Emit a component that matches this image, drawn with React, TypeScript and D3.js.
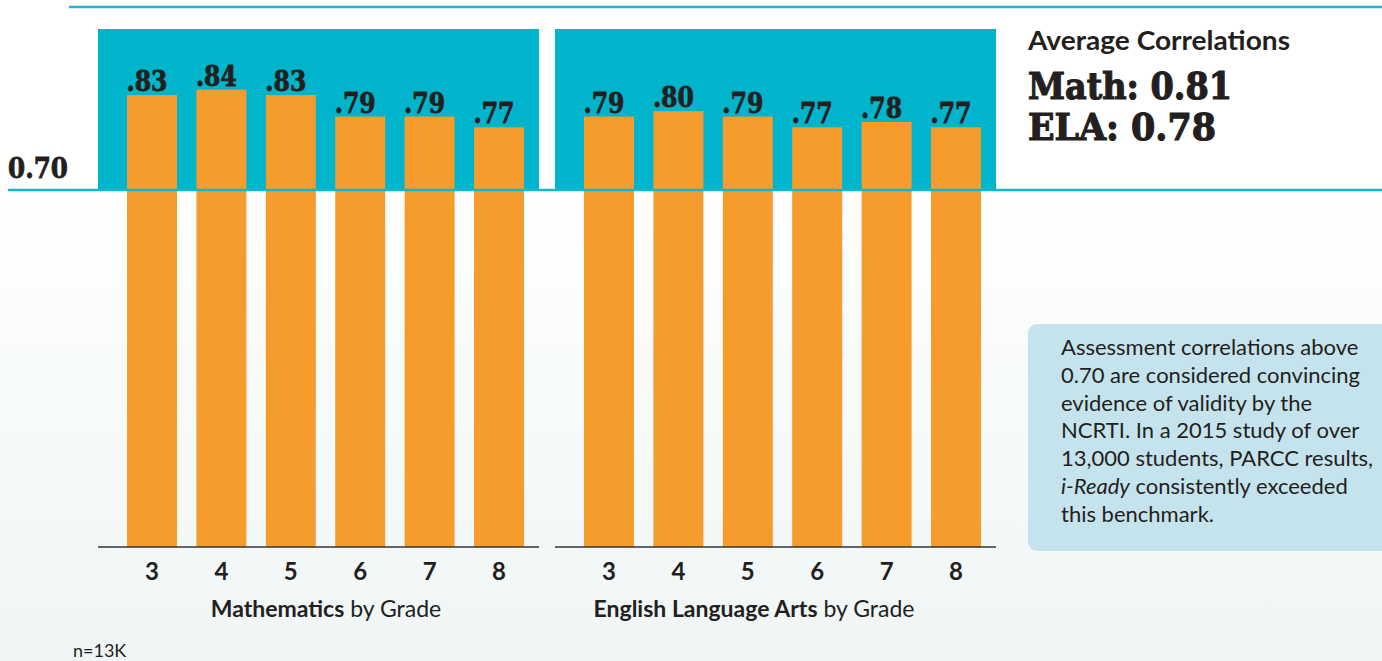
import * as d3 from "d3";

const grades = ["3", "4", "5", "6", "7", "8"];
const mathValues = [0.83, 0.84, 0.83, 0.79, 0.79, 0.77];
const elaValues = [0.79, 0.8, 0.79, 0.77, 0.78, 0.77];
const benchmark = 0.7;
const averageLabels = ["Math", "ELA"];
const averageValues = [0.81, 0.78];
const noteLines = [
  "Assessment correlations above",
  "0.70 are considered convincing",
  "evidence of validity by the",
  "NCRTI. In a 2015 study of over",
  "13,000 students, PARCC results,",
  "|i-Ready| consistently exceeded",
  "this benchmark.",
];

const W = 1382;
const H = 661;
const cyan = "#00b5cb";
const orange = "#f69c2d";
const ink = "#231f20";
const slab = "'DejaVu Serif', serif";
const sans = "Lato, 'Open Sans', sans-serif";

const panelTop = 29;
const refY = 190;
const axisY = 547;
const panelW = 441;

const panels = [
  { x: 98, bold: "Mathematics", rest: " by Grade", values: mathValues, titleX: 326 },
  { x: 555, bold: "English Language Arts", rest: " by Grade", values: elaValues, titleX: 754 },
];

const fmt = (v: number) => d3.format(".2f")(v).replace(/^0/, "");

const y = d3.scaleLinear().domain([0.77, 0.84]).range([127.3, 89.7]);

// heavy slab look: DejaVu Serif bold plus a thin outline
const heavy = { fontFamily: slab, fontWeight: "bold", fill: ink, stroke: ink, strokeWidth: 0.8 };

const Panel = ({ p }: { p: (typeof panels)[number] }) => {
  const x = d3
    .scaleBand<string>()
    .domain(grades)
    .range([p.x + 19.3, p.x + panelW - 5.3])
    .paddingInner(0.28)
    .paddingOuter(0.14);
  return (
    <g>
      <rect x={p.x} y={panelTop} width={panelW} height={refY - panelTop} fill={cyan} />
      {p.values.map((v, i) => {
        const g = grades[i];
        const bx = x(g) as number;
        return (
          <g key={g}>
            <rect x={bx} y={y(v)} width={x.bandwidth()} height={axisY - y(v)} fill={orange} />
            <text
              {...heavy}
              x={bx + x.bandwidth() / 2 - 5}
              y={y(v) - 4}
              textAnchor="middle"
              fontSize={27}
              textLength={41}
              lengthAdjust="spacingAndGlyphs"
            >
              {fmt(v)}
            </text>
            <text
              x={bx + x.bandwidth() / 2}
              y={580}
              textAnchor="middle"
              fontFamily={sans}
              fontWeight="bold"
              fontSize={24}
              fill={ink}
            >
              {g}
            </text>
          </g>
        );
      })}
      <line x1={p.x} x2={p.x + panelW} y1={axisY} y2={axisY} stroke="#333" strokeWidth={1.5} />
      <text x={p.titleX} y={617} textAnchor="middle" fontFamily={sans} fontSize={23} fill={ink}>
        <tspan fontWeight="bold">{p.bold}</tspan>
        {p.rest}
      </text>
    </g>
  );
};

export default function App() {
  return (
    <svg
      width={W}
      height={H}
      style={{ position: "absolute", left: 0, top: 0, display: "block" }}
    >
      <defs>
        <linearGradient id="bg" x1="0" y1="0" x2="0" y2="1">
          <stop offset="0.3" stopColor="#ffffff" />
          <stop offset="1" stopColor="#eff5f5" />
        </linearGradient>
      </defs>
      <rect width={W} height={H} fill="url(#bg)" />

      <line x1={69} x2={W} y1={7} y2={7} stroke="#1cb8cd" strokeWidth={2.5} />

      {panels.map((p) => (
        <Panel key={p.bold} p={p} />
      ))}
      <line x1={8} x2={W} y1={refY} y2={refY} stroke="#14b6cc" strokeWidth={2.5} />
      <text {...heavy} x={8} y={178} fontSize={27} textLength={60} lengthAdjust="spacingAndGlyphs">
        {d3.format(".2f")(benchmark)}
      </text>

      <text
        x={1028}
        y={50}
        fontFamily={sans}
        fontWeight="bold"
        fontSize={27}
        fill={ink}
        textLength={262}
        lengthAdjust="spacingAndGlyphs"
      >
        Average Correlations
      </text>
      {averageLabels.map((l, i) => {
        const t = `${l}: ${d3.format(".2f")(averageValues[i])}`;
        return (
          <text
            key={l}
            {...heavy}
            strokeWidth={1.2}
            x={1028}
            y={99 + i * 41}
            fontSize={37}
            textLength={l === "Math" ? 204 : 188}
            lengthAdjust="spacingAndGlyphs"
          >
            {t}
          </text>
        );
      })}

      <rect x={1028} y={324} width={370} height={227} rx={9} fill="#c5e3ec" />
      {noteLines.map((line, i) => {
        const parts = line.split("|");
        return (
          <text key={i} x={1061} y={355 + i * 27.8} fontFamily={sans} fontSize={22} fill={ink}>
            {parts.map((s, j) => (
              <tspan key={j} fontStyle={j % 2 === 1 ? "italic" : "normal"}>
                {s}
              </tspan>
            ))}
          </text>
        );
      })}

      <text x={73} y={657} fontFamily={sans} fontSize={18} fill={ink}>
        n=13K
      </text>
    </svg>
  );
}
